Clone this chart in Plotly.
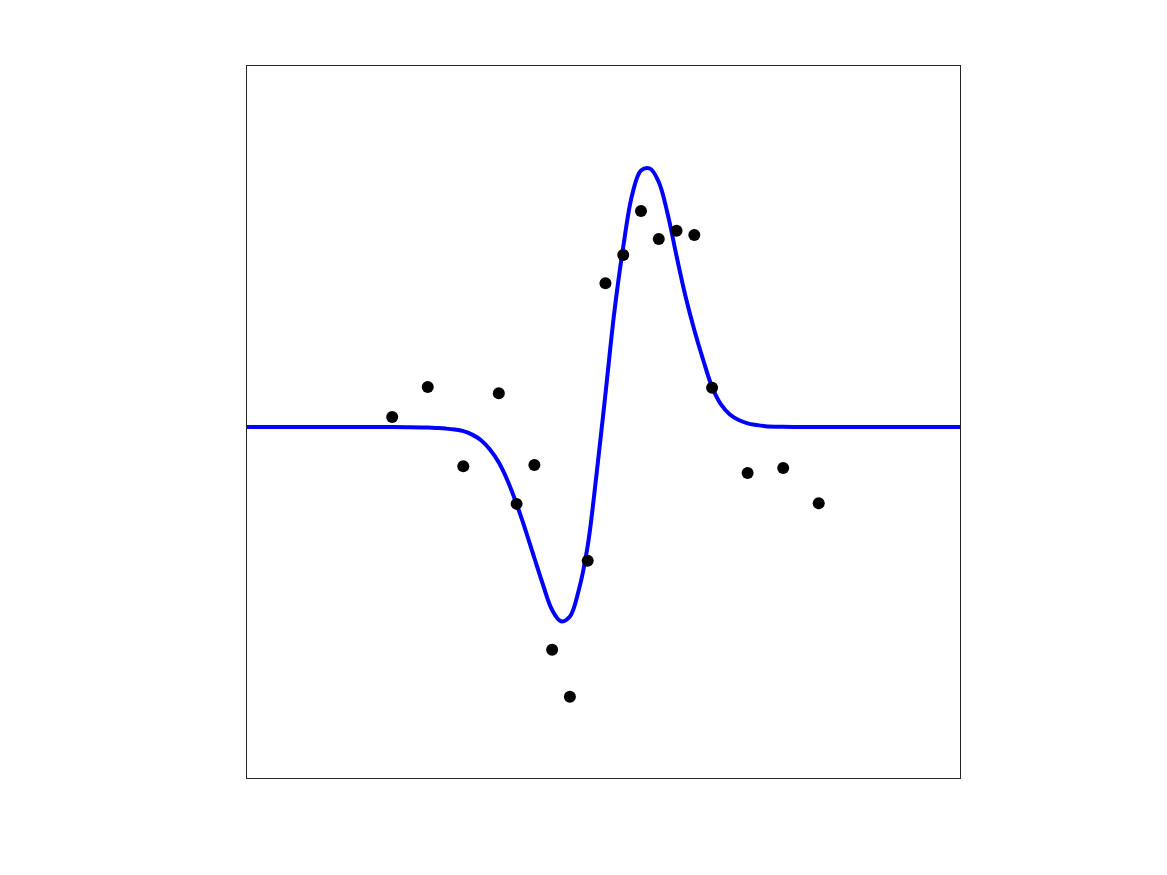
import plotly.graph_objects as go

# Fitted curve samples
curve_x = [-20.17, -12, -11, -10, -9.5, -9, -8.5, -8, -7.5, -7, -6.5, -6, -5.5, -5, -4.5,
           -4, -3.5, -3, -2.5, -2, -1.5, -1, -0.5, 0, 0.5, 1, 1.5, 2, 2.5, 3, 3.5, 4,
           4.5, 5, 5.5, 6, 6.5, 7, 7.5, 8, 8.5, 9, 10, 11, 19.95]
curve_y = [-0.014, -0.014, -0.0146, -0.0157, -0.0169, -0.0185, -0.0211, -0.0258, -0.0354,
           -0.0511, -0.0772, -0.1140, -0.1657, -0.2303, -0.3034, -0.3820, -0.4593, -0.5281,
           -0.5598, -0.5463, -0.4719, -0.3483, -0.1461, 0.0787, 0.3090, 0.4916, 0.6376,
           0.7065, 0.7121, 0.6742, 0.5843, 0.4663, 0.3539, 0.2584, 0.1742, 0.0983, 0.0492,
           0.0211, 0.0056, -0.0037, -0.0084, -0.0118, -0.0135, -0.014, -0.014]

# Observed data points
pts_x = [-12, -10, -8, -6, -5, -4, -3, -2, -1, 0, 1, 2, 3, 4, 5, 6, 8, 10, 12]
pts_y = [0.014, 0.098, -0.124, 0.081, -0.230, -0.121, -0.640, -0.772, -0.390, 0.390,
         0.469, 0.593, 0.514, 0.537, 0.525, 0.096, -0.143, -0.129, -0.228]

fig = go.Figure()
fig.add_trace(go.Scatter(x=curve_x, y=curve_y, mode="lines",
                         line=dict(color="rgb(0,0,255)", width=4, shape="spline", smoothing=1.0),
                         showlegend=False, hoverinfo="skip"))
fig.add_trace(go.Scatter(x=pts_x, y=pts_y, mode="markers",
                         marker=dict(color="black", size=12),
                         showlegend=False))

axis_common = dict(showgrid=False, zeroline=False, showticklabels=False, ticks="",
                   showline=True, mirror=True, linecolor="#262626", linewidth=1)
fig.update_layout(
    width=1167, height=875,
    margin=dict(l=239, r=215, t=58, b=105),
    paper_bgcolor="white", plot_bgcolor="white",
    xaxis=dict(range=[-20.17, 19.95], **axis_common),
    yaxis=dict(range=[-1, 1], **axis_common),
)
fig.write_html("out.html")
